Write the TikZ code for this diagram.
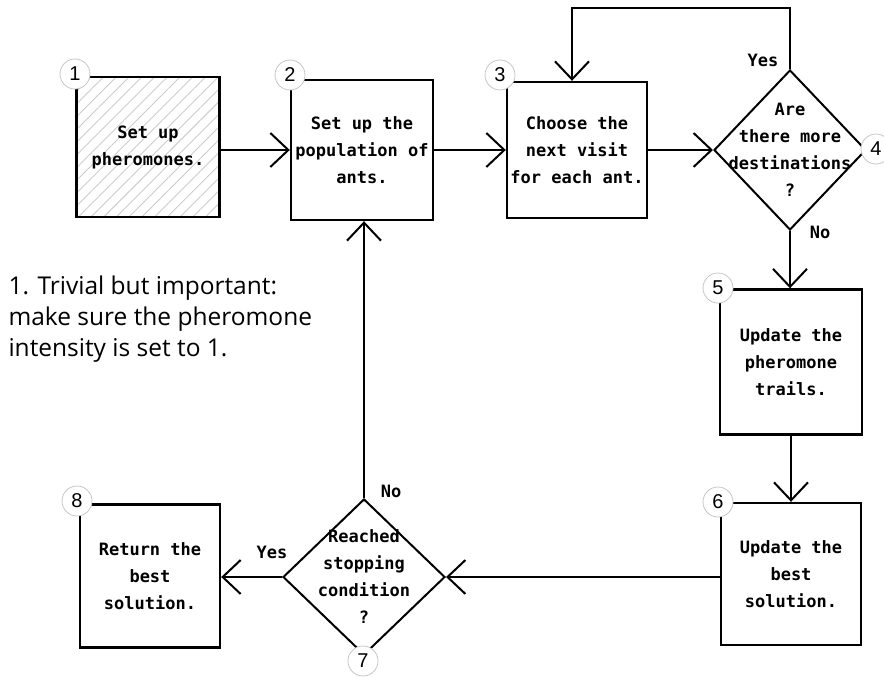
\documentclass[tikz,border=0pt]{standalone}
\usepackage{fontspec}
\setmonofont{DejaVu Sans Mono}
\setsansfont{Liberation Sans}
\newfontfamily\notefont{Open Sans}
\usepackage{tikz}
\usetikzlibrary{arrows.meta, shapes.geometric, patterns.meta}

\begin{document}
\begin{tikzpicture}[x=1pt, y=-1pt,
			block/.style={draw, line width=2.4pt, align=center, inner sep=0pt,
				font=\ttfamily\bfseries\fontsize{17}{27}\selectfont},
			decision/.style={draw, diamond, line width=2pt, inner sep=0pt},
			question/.style={align=center, font=\ttfamily\bfseries\fontsize{17}{27}\selectfont},
			num/.style={circle, draw=gray!45, line width=0.8pt, fill=white,
				minimum size=30pt, inner sep=0pt, font=\sffamily\fontsize{20}{20}\selectfont},
			arr/.style={line width=2pt, -{Straight Barb[length=18pt, width=34pt, line width=2pt]}},
			lbl/.style={font=\ttfamily\bfseries\fontsize{17}{17}\selectfont}]
			
			\useasboundingbox (0,0) rectangle (884,677);
			
			% top row
			\node (b1) [block, minimum width=143pt, minimum height=140pt,
				pattern={Lines[angle=45, distance=9pt, line width=0.9pt]}, pattern color=gray!40]
				at (148,147) {Set up\\pheromones.};
			\node (b2) [block, minimum width=142pt, minimum height=140pt] at (362,150) {Set up the\\population of\\ants.};
			\node (b3) [block, minimum width=140pt, minimum height=136pt] at (577,150) {Choose the\\next visit\\for each ant.};
			\node (d4) [decision, minimum width=152pt, minimum height=160pt] at (790,150) {};
			\node (q4) [question] at (d4) {Are\\there more\\destinations\\?};
			
			% right column
			\node (b5) [block, minimum width=142pt, minimum height=145pt] at (791,362) {Update the\\pheromone\\trails.};
			\node (b6) [block, minimum width=140pt, minimum height=142pt] at (791,574) {Update the\\best\\solution.};
			
			% bottom row
			\node (d7) [decision, minimum width=162pt, minimum height=156pt] at (364,577) {};
			\node (q7) [question] at (d7) {Reached\\stopping\\condition\\?};
			\node (b8) [block, minimum width=140pt, minimum height=143pt] at (150,576) {Return the\\best\\solution.};
			
%			\node (note) [draw] ...
			\node (note) [anchor=north west, align=left, font=\notefont\fontsize{24.5}{31}\selectfont]
				at (5,272) {1. Trivial but important:\\make sure the pheromone\\intensity is set to 1.};
			
			% connectors
			\coordinate (loop) at (790,8);
			\draw[arr] (b1.east |- b2.west) -- (b2.west);
			\draw[arr] (b2) -- (b3);
			\draw[arr] (b3) -- (d4);
			\draw[arr] (d4.north) -- (loop) -| ([xshift=-5pt]b3.north);
			\draw[arr] (d4.south) -- (b5.north -| d4.south);
			\draw[arr] (b5.south) -- (b6.north);
			\draw[arr] (b6.west |- d7) -- (d7.east);
			\draw[arr] (d7.north) -- (d7.north |- b2.south);
			\draw[arr] (d7.west) -- (b8.east |- d7.west);
			
			% branch labels
			\node (yes4) [lbl] at (763,60) {Yes};
			\node (no4) [lbl] at (820,232) {No};
			\node (no7) [lbl] at (391,491) {No};
			\node (yes7) [lbl] at (272,552) {Yes};
			
			% step numbers
			\node (n1) [num] at (75,74) {1};
			\node (n2) [num] at (290,75) {2};
			\node (n3) [num] at (500,75) {3};
			\node (n4) [num] at (876,149) {4};
			\node (n5) [num] at (718,288) {5};
			\node (n6) [num] at (718,502) {6};
			\node (n7) [num] at (363,661) {7};
			\node (n8) [num] at (77,501) {8};
		\end{tikzpicture}
\end{document}
